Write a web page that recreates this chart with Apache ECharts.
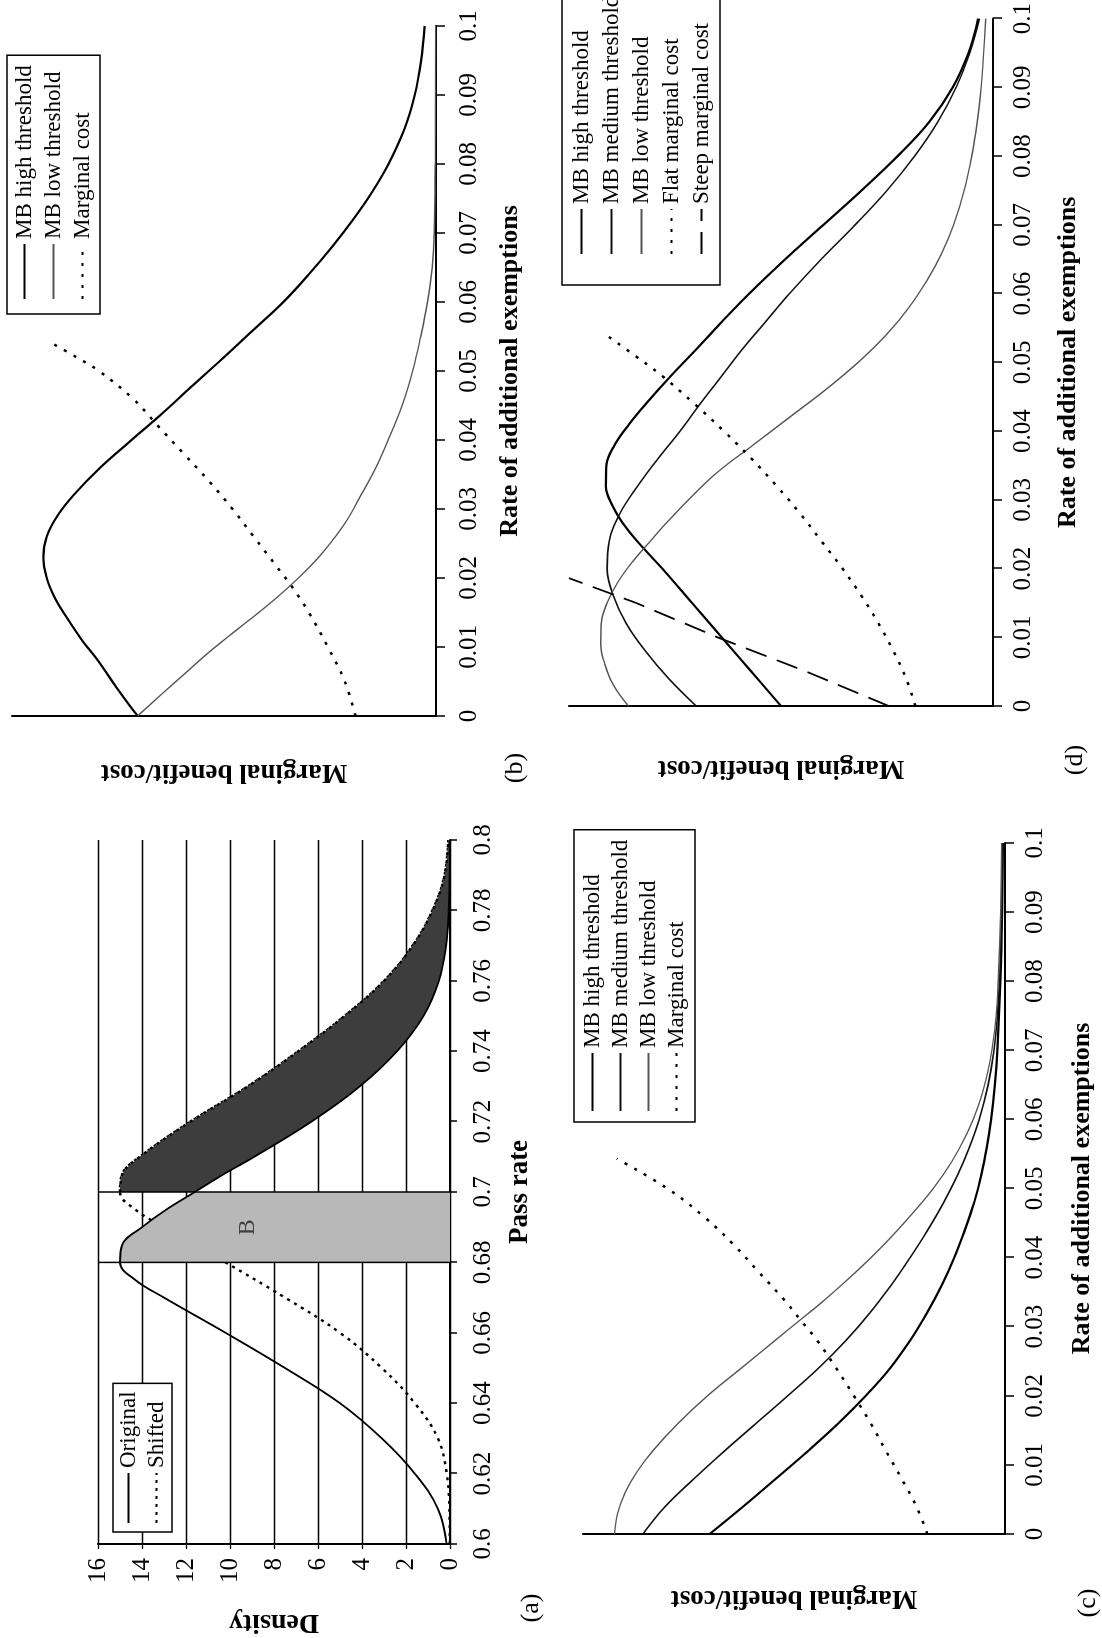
<!DOCTYPE html>
<html><head><meta charset="utf-8">
<script src="https://cdn.jsdelivr.net/npm/echarts/dist/echarts.min.js"></script>
<style>
html,body{margin:0;padding:0;background:#fff;overflow:hidden;width:1102px;height:1638px;}
#wrap{position:absolute;left:0;top:0;width:1638px;height:1102px;transform-origin:0 0;transform:translate(0px,1638px) rotate(-90deg);}
#chart{width:1638px;height:1102px;background:#fff;}
</style></head><body><div id="wrap"><div id="chart"></div></div>
<script>
// ---------- DATA ----------
// Panel (a): pass rate vs density
const passRange = [0.6, 0.8];
const densityRange = [0, 16];
const aOriginal = [[0.60,0.15],[0.61,0.55],[0.62,1.6],[0.63,3.1],[0.64,5.0],[0.65,7.5],[0.66,10.2],[0.67,13.0],[0.675,14.3],[0.68,15.0],[0.685,14.9],[0.69,14.0],[0.695,12.9],[0.70,11.6],[0.705,10.3],[0.71,8.9],[0.72,6.3],[0.73,4.1],[0.74,2.4],[0.75,1.2],[0.76,0.5],[0.77,0.18],[0.78,0.06],[0.79,0.02],[0.80,0.01]];
const aShifted = [[0.60,0.01],[0.61,0.03],[0.62,0.15],[0.63,0.55],[0.64,1.6],[0.65,3.1],[0.66,5.0],[0.67,7.5],[0.68,10.2],[0.69,13.0],[0.695,14.3],[0.70,15.0],[0.705,14.9],[0.71,14.1],[0.72,11.8],[0.73,9.2],[0.74,6.9],[0.75,4.8],[0.76,3.0],[0.77,1.7],[0.78,0.8],[0.79,0.25],[0.80,0.08]];
const bandEdges = [0.68, 0.70];
const bLabelPos = [[0.69, 9.2]];

// Panel (b)
const bHigh = [[0,0.704],[0.004,0.752],[0.008,0.797],[0.011,0.835],[0.014,0.868],[0.017,0.898],[0.020,0.918],[0.023,0.926],[0.026,0.918],[0.029,0.893],[0.032,0.855],[0.036,0.792],[0.040,0.718],[0.044,0.643],[0.048,0.572],[0.052,0.50],[0.056,0.43],[0.060,0.36],[0.064,0.30],[0.068,0.245],[0.072,0.195],[0.076,0.15],[0.080,0.112],[0.085,0.075],[0.090,0.05],[0.095,0.035],[0.100,0.027]];
const bLow = [[0,0.704],[0.003,0.65],[0.006,0.595],[0.009,0.54],[0.012,0.48],[0.015,0.418],[0.018,0.36],[0.021,0.308],[0.024,0.263],[0.028,0.214],[0.032,0.177],[0.036,0.142],[0.040,0.113],[0.045,0.08],[0.050,0.055],[0.055,0.036],[0.060,0.02],[0.065,0.009],[0.070,0.004],[0.080,0.002],[0.100,0.001]];
const bCost = [[0,0.19],[0.005,0.215],[0.010,0.255],[0.015,0.30],[0.0185,0.337],[0.022,0.38],[0.026,0.43],[0.030,0.48],[0.034,0.535],[0.038,0.595],[0.042,0.655],[0.046,0.715],[0.050,0.795],[0.052,0.848],[0.054,0.905]];

// Panel (c)
const cHigh = [[0,0.70],[0.004,0.62],[0.008,0.543],[0.012,0.467],[0.016,0.395],[0.020,0.33],[0.024,0.272],[0.028,0.225],[0.032,0.185],[0.036,0.15],[0.040,0.12],[0.044,0.095],[0.048,0.073],[0.052,0.056],[0.056,0.043],[0.060,0.033],[0.065,0.024],[0.070,0.018],[0.080,0.011],[0.090,0.007],[0.100,0.005]];
const cMedium = [[0,0.858],[0.004,0.805],[0.008,0.737],[0.012,0.665],[0.016,0.59],[0.020,0.515],[0.024,0.442],[0.028,0.377],[0.032,0.32],[0.036,0.27],[0.040,0.225],[0.044,0.183],[0.048,0.145],[0.052,0.112],[0.056,0.084],[0.060,0.061],[0.065,0.04],[0.070,0.026],[0.075,0.018],[0.080,0.013],[0.090,0.008],[0.100,0.006]];
const cLow = [[0,0.925],[0.003,0.918],[0.006,0.90],[0.009,0.872],[0.012,0.835],[0.016,0.775],[0.020,0.705],[0.024,0.625],[0.028,0.545],[0.031,0.485],[0.034,0.425],[0.038,0.352],[0.042,0.285],[0.046,0.225],[0.050,0.17],[0.054,0.125],[0.058,0.09],[0.062,0.063],[0.066,0.044],[0.070,0.031],[0.075,0.021],[0.080,0.016],[0.090,0.01],[0.100,0.008]];
const cCost = [[0,0.184],[0.004,0.21],[0.008,0.245],[0.012,0.282],[0.016,0.318],[0.020,0.358],[0.024,0.40],[0.028,0.445],[0.031,0.485],[0.034,0.525],[0.038,0.585],[0.042,0.645],[0.046,0.715],[0.050,0.80],[0.0543,0.92]];

// Panel (d)
const dHigh = [[0,0.50],[0.005,0.57],[0.010,0.64],[0.015,0.71],[0.020,0.78],[0.023,0.825],[0.026,0.866],[0.029,0.896],[0.032,0.913],[0.035,0.912],[0.038,0.892],[0.041,0.858],[0.044,0.818],[0.048,0.76],[0.052,0.698],[0.056,0.638],[0.060,0.575],[0.065,0.49],[0.070,0.40],[0.075,0.31],[0.080,0.225],[0.085,0.15],[0.090,0.095],[0.095,0.058],[0.100,0.035]];
const dMedium = [[0,0.70],[0.004,0.765],[0.008,0.82],[0.012,0.865],[0.016,0.895],[0.020,0.91],[0.024,0.905],[0.028,0.88],[0.032,0.838],[0.036,0.79],[0.040,0.738],[0.044,0.69],[0.048,0.64],[0.052,0.59],[0.056,0.535],[0.060,0.48],[0.065,0.405],[0.070,0.325],[0.075,0.25],[0.080,0.185],[0.085,0.13],[0.090,0.087],[0.095,0.055],[0.100,0.032]];
const dLow = [[0,0.86],[0.003,0.895],[0.006,0.915],[0.009,0.925],[0.012,0.924],[0.015,0.91],[0.018,0.885],[0.021,0.85],[0.024,0.808],[0.027,0.765],[0.030,0.718],[0.034,0.65],[0.038,0.565],[0.042,0.48],[0.046,0.395],[0.050,0.318],[0.054,0.252],[0.058,0.198],[0.062,0.155],[0.066,0.12],[0.070,0.093],[0.075,0.068],[0.080,0.05],[0.085,0.037],[0.090,0.028],[0.095,0.022],[0.100,0.017]];
const dFlatCost = [[0,0.183],[0.004,0.205],[0.008,0.235],[0.012,0.27],[0.016,0.31],[0.020,0.355],[0.024,0.405],[0.028,0.455],[0.032,0.51],[0.036,0.57],[0.040,0.635],[0.044,0.705],[0.048,0.78],[0.051,0.845],[0.054,0.913]];
const dSteepCost = [[0,0.246],[0.005,0.44],[0.010,0.65],[0.015,0.842],[0.0186,1.0]];

const rateRange = [0, 0.1];

// ---------- STYLE ----------
const FONT = '"Liberation Serif", "Times New Roman", serif';
const SMOOTH = 0.4;
const sHigh = {color:'#000', width:2.2, type:'solid'};
const sMed = {color:'#111', width:1.6, type:'solid'};
const sLow = {color:'#555', width:1.4, type:'solid'};
const sCost = {color:'#000', width:2.5, type:[3,8]};
const sSteep = {color:'#000', width:1.8, type:[22,11]};
const sOrig = {color:'#000', width:1.8, type:'solid'};
const sShift = {color:'#000', width:2.4, type:[3,5]};

function line(name, data, g, style, smooth, z) {
  return {type:'line', name:name, data:data, xAxisIndex:g, yAxisIndex:g, symbol:'none', showSymbol:false,
    smooth: smooth === undefined ? SMOOTH : smooth, lineStyle:style, itemStyle:{color:style.color},
    silent:true, z: z === undefined ? 3 : z, animation:false};
}
function area(data, g, color, z) {
  return {type:'line', data:data, xAxisIndex:g, yAxisIndex:g, symbol:'none', showSymbol:false, smooth:SMOOTH,
    lineStyle:{width:0, opacity:0}, areaStyle:{color:color, opacity:1, origin:'start'},
    silent:true, z:z, animation:false};
}
// smooth path through pixel points (Catmull-Rom as cubic Bezier)
function curveThrough(pts) {
  let d = '';
  for (let i = 0; i < pts.length - 1; i++) {
    const p0 = pts[i - 1] || pts[i], p1 = pts[i], p2 = pts[i + 1], p3 = pts[i + 2] || pts[i + 1];
    const c1 = [p1[0] + (p2[0] - p0[0]) / 6, p1[1] + (p2[1] - p0[1]) / 6];
    const c2 = [p2[0] - (p3[0] - p1[0]) / 6, p2[1] - (p3[1] - p1[1]) / 6];
    d += ' C' + c1[0] + ',' + c1[1] + ' ' + c2[0] + ',' + c2[1] + ' ' + p2[0] + ',' + p2[1];
  }
  return d;
}
function bandFill(topPts, botPts, g, color, z) {
  return {type:'custom', xAxisIndex:g, yAxisIndex:g, data:[topPts[0]], silent:true, z:z, clip:true,
    renderItem: function(params, api){
      const t = topPts.map(function(p){return api.coord(p);});
      const b = botPts.slice().reverse().map(function(p){return api.coord(p);});
      const d = 'M' + t[0][0] + ',' + t[0][1] + curveThrough(t) + ' L' + b[0][0] + ',' + b[0][1] + curveThrough(b) + ' Z';
      return {type:'path', shape:{pathData:d}, style:{fill:color, stroke:null}};
    }};
}

const inRange = (arr, lo, hi) => arr.filter(p => p[0] >= lo - 1e-9 && p[0] <= hi + 1e-9);
const bandTop = inRange(aOriginal, bandEdges[0], bandEdges[1]);
const darkBase = inRange(aOriginal, bandEdges[1], passRange[1]);
const darkTop = inRange(aShifted, bandEdges[1], passRange[1]);

function rateX(g, margin, gap) {
  return {type:'value', gridIndex:g, min:rateRange[0], max:rateRange[1], interval:0.01,
    axisLine:{show:true, onZero:false, lineStyle:{color:'#000', width:2}},
    axisTick:{show:true, inside:false, length:9, lineStyle:{color:'#000', width:1.5}},
    axisLabel:{show:true, fontFamily:FONT, fontSize:25, color:'#000', margin:margin},
    splitLine:{show:false},
    name:'Rate of additional exemptions', nameLocation:'middle', nameGap:gap,
    nameTextStyle:{fontFamily:FONT, fontSize:26, fontWeight:'bold', color:'#000'}};
}
function mbY(g, gap) {
  return {type:'value', gridIndex:g, min:0, max:1,
    axisLine:{show:true, onZero:false, lineStyle:{color:'#000', width:2}},
    axisTick:{show:false}, axisLabel:{show:false}, splitLine:{show:false},
    name:'Marginal benefit/cost', nameLocation:'middle', nameGap:gap,
    nameTextStyle:{fontFamily:FONT, fontSize:27, fontWeight:'bold', color:'#000'}};
}
function legend(left, top, names, itemWidth, itemGap, padding) {
  return {show:true, orient:'vertical', left:left, top:top, data:names, selectedMode:false,
    itemWidth:itemWidth, itemHeight:12, itemGap:itemGap, padding:padding,
    borderColor:'#000', borderWidth:1.5, borderRadius:0, backgroundColor:'#fff',
    itemStyle:{opacity:0},
    textStyle:{fontFamily:FONT, fontSize:23, color:'#000'}};
}
function label(text, x, y) {
  return {type:'text', x:x, y:y, style:{text:text, font:'26px ' + FONT, fill:'#000', textAlign:'center', textVerticalAlign:'middle'}};
}

const option = {
  animation:false,
  backgroundColor:'#fff',
  textStyle:{fontFamily:FONT},
  grid:[
    {left:94, right:840, top:98, bottom:652},
    {left:922, right:26, top:12, bottom:666},
    {left:104, right:843, top:583, bottom:97},
    {left:932, right:16, top:569, bottom:109}
  ],
  xAxis:[
    {type:'value', gridIndex:0, min:passRange[0], max:passRange[1], interval:0.02,
      axisLine:{show:true, onZero:false, lineStyle:{color:'#000', width:2}},
      axisTick:{show:true, length:7, lineStyle:{color:'#000', width:1.5}},
      axisLabel:{fontFamily:FONT, fontSize:25, color:'#000', margin:21},
      splitLine:{show:false},
      name:'Pass rate', nameLocation:'middle', nameGap:57,
      nameTextStyle:{fontFamily:FONT, fontSize:27, fontWeight:'bold', color:'#000'}},
    rateX(1, 21, 61), rateX(2, 18, 64), rateX(3, 18, 62)
  ],
  yAxis:[
    {type:'value', gridIndex:0, min:densityRange[0], max:densityRange[1], interval:2,
      axisLine:{show:true, onZero:false, lineStyle:{color:'#000', width:2}},
      axisTick:{show:true, length:5, lineStyle:{color:'#000', width:1.3}},
      axisLabel:{fontFamily:FONT, fontSize:25, color:'#000', margin:14},
      splitLine:{show:true, lineStyle:{color:'#000', width:1.4}},
      name:'Density', nameLocation:'middle', nameGap:64,
      nameTextStyle:{fontFamily:FONT, fontSize:28, fontWeight:'bold', color:'#000'}},
    mbY(1, 42), mbY(2, 50), mbY(3, 48)
  ],
  legend:[
    legend(106, 113, ['Original','Shifted'], 50, 5, [4,8,4,8]),
    legend(1324, 7, ['MB high threshold','MB low threshold','Marginal cost'], 55, 6, [6,10,6,14]),
    legend(516, 574, ['MB high threshold','MB medium threshold','MB low threshold','Marginal cost'], 58, 5, [7,10,7,10]),
    legend(1353, 562, ['MB high threshold','MB medium threshold','MB low threshold','Flat marginal cost','Steep marginal cost'], 45, 7, [8,30,7,30])
  ],
  graphic:[label('(a)', 30, 531), label('(b)', 870, 515), label('(c)', 35, 1088), label('(d)', 878, 1075)],
  series:[
    line('Shifted', aShifted, 0, sShift, SMOOTH, 1),
    area(bandTop, 0, '#b8b8b8', 2),
    bandFill(darkTop, darkBase, 0, '#3d3d3d', 2),
    line('edge1', [[bandEdges[0], densityRange[0]],[bandEdges[0], densityRange[1]]], 0, {color:'#000', width:1.5}, false),
    line('edge2', [[bandEdges[1], densityRange[0]],[bandEdges[1], densityRange[1]]], 0, {color:'#000', width:1.5}, false),
    line('Original', aOriginal, 0, sOrig),
    line('shiftedEdge', darkTop, 0, sShift),
    {type:'scatter', xAxisIndex:0, yAxisIndex:0, data:bLabelPos, symbolSize:1, itemStyle:{color:'rgba(0,0,0,0)'}, silent:true, z:5,
      label:{show:true, position:'inside', formatter:'B', fontFamily:FONT, fontSize:24, color:'#222'}},

    line('MB high threshold', bHigh, 1, sHigh),
    line('MB low threshold', bLow, 1, sLow),
    line('Marginal cost', bCost, 1, sCost),

    line('MB high threshold', cHigh, 2, sHigh),
    line('MB medium threshold', cMedium, 2, sMed),
    line('MB low threshold', cLow, 2, sLow),
    line('Marginal cost', cCost, 2, sCost),

    line('MB high threshold', dHigh, 3, sHigh),
    line('MB medium threshold', dMedium, 3, sMed),
    line('MB low threshold', dLow, 3, sLow),
    line('Flat marginal cost', dFlatCost, 3, sCost),
    line('Steep marginal cost', dSteepCost, 3, sSteep, false)
  ]
};
const chart = echarts.init(document.getElementById('chart'), null, {renderer:'canvas', width:1638, height:1102});
chart.setOption(option);
</script></body></html>
